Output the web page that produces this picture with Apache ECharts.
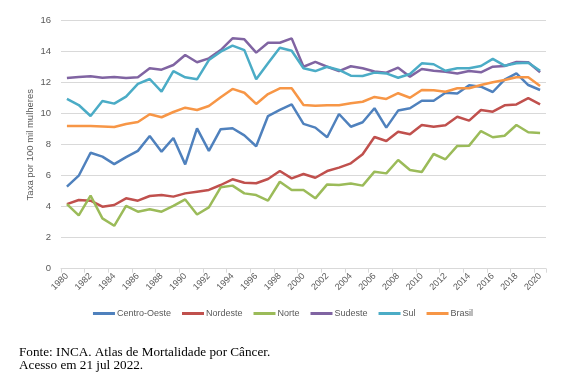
<!DOCTYPE html>
<html>
<head>
<meta charset="utf-8">
<script src="https://cdn.jsdelivr.net/npm/echarts@6/dist/echarts.min.js"></script>
<style>
html,body{margin:0;padding:0;background:#fff;}
#c{width:566px;height:388px;}
</style>
</head>
<body>
<div id="c"></div>
<script>
const years = [];
for (let y = 1980; y <= 2020; y++) years.push(String(y));

const centroOeste = [5.3,6.0,7.48,7.23,6.75,7.2,7.6,8.56,7.55,8.43,6.73,9.05,7.6,9.0,9.06,8.6,7.9,9.85,10.24,10.6,9.34,9.1,8.48,9.98,9.16,9.45,10.35,9.1,10.2,10.35,10.84,10.84,11.35,11.3,11.83,11.74,11.4,12.2,12.6,11.85,11.53];
const nordeste = [4.17,4.43,4.39,4.0,4.11,4.54,4.39,4.69,4.75,4.65,4.86,4.97,5.08,5.4,5.77,5.55,5.51,5.79,6.3,5.83,6.11,5.87,6.3,6.52,6.8,7.38,8.5,8.24,8.84,8.67,9.27,9.16,9.25,9.8,9.55,10.24,10.13,10.54,10.6,11.0,10.6];
const norte = [4.17,3.44,4.71,3.25,2.77,4.06,3.68,3.83,3.68,4.05,4.47,3.5,3.96,5.25,5.36,4.86,4.75,4.39,5.61,5.08,5.08,4.54,5.44,5.4,5.49,5.36,6.26,6.15,7.01,6.37,6.24,7.4,7.06,7.92,7.94,8.88,8.48,8.58,9.27,8.8,8.75];
const sudeste = [12.3,12.37,12.41,12.32,12.37,12.3,12.35,12.93,12.84,13.14,13.79,13.32,13.57,14.1,14.86,14.8,13.94,14.58,14.58,14.86,13.03,13.34,13.03,12.75,13.06,12.93,12.72,12.65,12.97,12.39,12.88,12.77,12.71,12.6,12.75,12.67,13.03,13.08,13.34,13.32,12.67];
const sul = [10.95,10.56,9.85,10.82,10.65,11.1,11.92,12.24,11.42,12.75,12.35,12.22,13.46,14.0,14.39,14.1,12.22,13.25,14.26,14.06,12.93,12.75,13.03,12.82,12.45,12.43,12.65,12.6,12.32,12.56,13.25,13.19,12.77,12.93,12.93,13.08,13.54,13.1,13.25,13.29,12.77];
const brasil = [9.2,9.2,9.2,9.18,9.14,9.34,9.46,9.96,9.77,10.11,10.39,10.24,10.5,11.06,11.6,11.35,10.63,11.27,11.64,11.64,10.56,10.52,10.54,10.54,10.67,10.77,11.08,10.95,11.32,11.03,11.53,11.51,11.42,11.64,11.64,11.85,12.03,12.17,12.35,12.35,11.79];

const seriesNames = ['Centro-Oeste','Nordeste','Norte','Sudeste','Sul','Brasil'];
const seriesData = [centroOeste, nordeste, norte, sudeste, sul, brasil];
const colors = ['#4F81BD','#C0504D','#9BBB59','#8064A2','#4BACC6','#F79646'];

const chart = echarts.init(document.getElementById('c'), null, {renderer:'canvas'});
chart.setOption({
  animation: false,
  color: colors,
  grid: {left: 61, right: 20, top: 20.7, bottom: 119.3, containLabel: false},
  legend: {
    data: seriesNames,
    left: 'center',
    top: 304,
    icon: 'rect',
    itemWidth: 22,
    itemHeight: 3,
    itemGap: 11,
    textStyle: {fontSize: 9, color: '#595959', fontFamily: 'Liberation Sans, Arial, sans-serif', padding: [0,0,0,-3]}
  },
  xAxis: {
    type: 'category',
    data: years,
    boundaryGap: true,
    axisLine: {lineStyle: {color: '#d9d9d9'}},
    axisTick: {show: true, interval: 1, length: 4, lineStyle: {color: '#d9d9d9'}},
    axisLabel: {interval: 1, rotate: 45, fontSize: 9, color: '#595959', margin: 6, fontFamily: 'Liberation Sans, Arial, sans-serif'},
    splitLine: {show: false}
  },
  yAxis: {
    type: 'value',
    min: 0, max: 16, interval: 2,
    name: 'Taxa por 100 mil mulheres',
    nameLocation: 'middle',
    nameGap: 26,
    nameMoveOverlap: false,
    nameTextStyle: {fontSize: 9.5, color: '#595959', fontFamily: 'Liberation Sans, Arial, sans-serif'},
    axisLine: {show: false},
    axisTick: {show: false},
    axisLabel: {fontSize: 9.5, color: '#595959', margin: 10, fontFamily: 'Liberation Sans, Arial, sans-serif'},
    splitLine: {lineStyle: {color: '#d9d9d9', width: 1}}
  },
  series: seriesNames.map((n, i) => ({
    name: n,
    type: 'line',
    data: seriesData[i],
    showSymbol: false,
    symbol: 'none',
    lineStyle: {width: 2.5, color: colors[i]},
    itemStyle: {color: colors[i]}
  })),
  graphic: [
    {type: 'text', left: 19, top: 346, style: {text: 'Fonte: INCA. Atlas de Mortalidade por Câncer.\nAcesso em 21 jul 2022.', font: '13.2px "Liberation Serif", "Times New Roman", serif', fill: '#000', lineHeight: 13}}
  ]
});
</script>
</body>
</html>
